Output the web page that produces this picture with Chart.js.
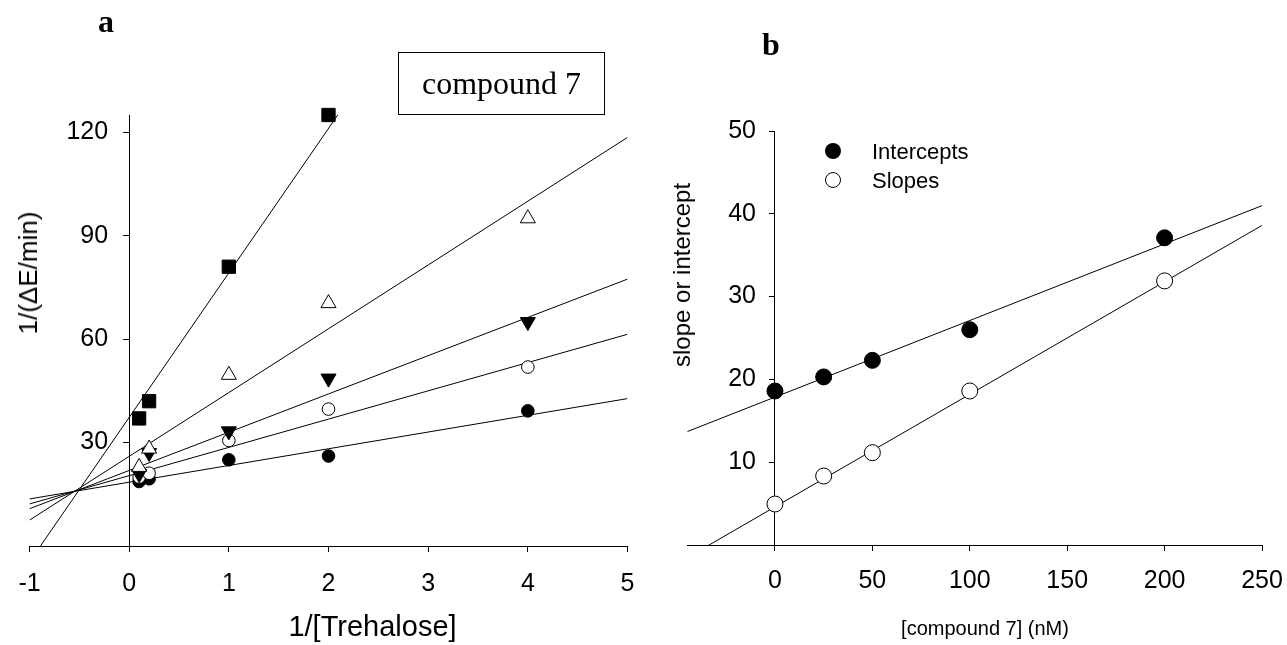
<!DOCTYPE html>
<html><head><meta charset="utf-8">
<script src="https://cdn.jsdelivr.net/npm/chart.js@4.4.1/dist/chart.umd.min.js"></script>
<style>
html,body{margin:0;padding:0;background:#fff;}
#wrap{position:relative;width:1287px;height:645px;overflow:hidden;background:#fff;font-family:"Liberation Sans",Arial,sans-serif;color:#000;}
.pane{position:absolute;top:0;height:645px;}
.t{position:absolute;white-space:nowrap;color:#000;font-family:"Liberation Sans",Arial,sans-serif;}
.serif{font-family:"Liberation Serif","Times New Roman",serif;}
.dot{position:absolute;width:16px;height:16px;border-radius:50%;box-sizing:border-box;}
</style></head><body>
<div id="wrap">
  <div class="pane" style="left:0;width:650px"><canvas id="ca"></canvas></div>
  <div class="pane" style="left:650px;width:637px"><canvas id="cb"></canvas></div>

  <div class="t serif" style="left:98px;top:5px;font-size:32px;font-weight:bold;line-height:32px">a</div>
  <div class="t serif" style="left:762px;top:28px;font-size:32px;font-weight:bold;line-height:32px">b</div>
  <div class="serif" style="position:absolute;left:398px;top:52px;width:205px;height:61px;border:1px solid #000;font-size:32px;line-height:61px;text-align:center;white-space:nowrap">compound 7</div>

  <div class="t" style="left:372.5px;top:611.5px;font-size:29px;line-height:29px;transform:translateX(-50%)">1/[Trehalose]</div>
  <div class="t" style="left:27.5px;top:273px;font-size:26px;line-height:26px;transform:translate(-50%,-50%) rotate(-90deg)">1/(ΔE/min)</div>

  <div class="t" style="left:985px;top:618px;font-size:20px;line-height:20px;transform:translateX(-50%)">[compound 7] (nM)</div>
  <div class="t" style="left:682px;top:275px;font-size:24px;line-height:24px;transform:translate(-50%,-50%) rotate(-90deg)">slope or intercept</div>

  <div class="dot" style="left:825px;top:143px;background:#000"></div>
  <div class="dot" style="left:825px;top:172px;background:#fff;border:1px solid #000"></div>
  <div class="t" style="left:872px;top:140.5px;font-size:22px;line-height:22px">Intercepts</div>
  <div class="t" style="left:872px;top:169.5px;font-size:22px;line-height:22px">Slopes</div>
</div>
<script>
// ---------- Panel a data ----------
const xA = [0.1, 0.2, 1, 2, 4];                      // 1/[Trehalose]
const squaresY     = [37.0, 42.0, 81.0, 125.0, null];
const openTriY     = [22.9, 28.2, 49.6, 70.4, 95.0];
const downTriY     = [20.9, 27.0, 33.3, 48.6, 65.0];
const openCircY    = [20.0, 21.1, 30.6, 39.7, 51.9];
const filledCircY  = [18.7, 19.5, 25.0, 26.1, 39.2];
// fitted lines (slope, intercept) for squares, open tri, down tri, open circ, filled circ
const fitSlopeA     = [41.9, 18.5, 11.1, 8.2, 4.85];
const fitInterceptA = [37.3, 26.0, 21.9, 20.4, 18.5];
const xTicksA = [-1, 0, 1, 2, 3, 4, 5];
const yTicksA = [30, 60, 90, 120];

// ---------- Panel b data ----------
const xB = [0, 25, 50, 100, 200];                    // [compound 7] (nM)
const interceptsY = [18.6, 20.3, 22.3, 26.0, 37.1];
const slopesY     = [4.95, 8.33, 11.15, 18.6, 31.9];
const fitSlopeB     = [0.0925, 0.136];
const fitInterceptB = [17.86, 4.6];
const xTicksB = [0, 50, 100, 150, 200, 250];
const yTicksB = [10, 20, 30, 40, 50];

Chart.defaults.font.family = '"Liberation Sans", Arial, sans-serif';
Chart.defaults.color = '#000';

// place the y axis at x = 0
const yAtZero = {
  id: 'yAtZero',
  afterLayout(chart) {
    const x0 = chart.scales.x.getPixelForValue(0);
    const y = chart.scales.y;
    y.left = 0; y.right = x0; y.width = x0;
    y._labelItems = null;
    y._gridLineItems = null;
  }
};

function axis(min, max, tickArr, isX, h, pad) {
  return {
    type: 'linear', min, max,
    position: isX ? 'bottom' : 'left',
    afterBuildTicks: s => { s.ticks = tickArr.map(v => ({value: v})); },
    afterFit: s => {
      if (isX) s.height = h; else s.width = 0;
      s.paddingLeft = 0; s.paddingRight = 0; s.paddingTop = 0; s.paddingBottom = 0;
    },
    ticks: {color: '#000', font: {size: 25}, padding: pad, autoSkip: false, maxRotation: 0,
            callback: v => String(v)},
    grid: {display: true, drawOnChartArea: false, drawTicks: true, tickLength: 6,
           color: '#000', tickColor: '#000', lineWidth: 1, tickWidth: 1},
    border: {display: true, color: '#000', width: 1}
  };
}

function markers(xs, ys, style, r, fill, rot, order) {
  return {
    type: 'scatter', showLine: false, clip: false, order,
    data: xs.map((x, i) => ({x, y: ys[i]})).filter(p => p.y !== null),
    pointStyle: style, pointRadius: r, pointHoverRadius: r, pointRotation: rot,
    pointBackgroundColor: fill, pointBorderColor: '#000', pointBorderWidth: 1
  };
}
function fitLine(m, b, x0, x1) {
  return {
    type: 'line', order: 100, clip: 0, showLine: true, fill: false, tension: 0,
    data: [{x: x0, y: b + m * x0}, {x: x1, y: b + m * x1}],
    borderColor: '#000', borderWidth: 1, pointRadius: 0, pointHoverRadius: 0
  };
}

const baseOpts = {
  responsive: true, maintainAspectRatio: false, animation: false, events: [],
  plugins: {legend: {display: false}, tooltip: {enabled: false}}
};

// Panel a
const dsA = [];
for (let k = 0; k < fitSlopeA.length; k++) dsA.push(fitLine(fitSlopeA[k], fitInterceptA[k], -1, 5));
dsA.push(markers(xA, filledCircY, 'circle', 6.3, '#000', 0, 5));
dsA.push(markers(xA, openCircY, 'circle', 6.3, '#fff', 0, 4));
dsA.push(markers(xA, downTriY, 'triangle', 8.7, '#000', 180, 3));
dsA.push(markers(xA, openTriY, 'triangle', 8.7, '#fff', 0, 2));
dsA.push(markers(xA, squaresY, 'rect', 9.4, '#000', 0, 1));

new Chart(document.getElementById('ca'), {
  type: 'scatter',
  data: {datasets: dsA},
  options: Object.assign({}, baseOpts, {
    layout: {padding: {left: 29.5, right: 22.5, top: 115, bottom: 0}},
    scales: {x: axis(-1, 5, xTicksA, true, 99, 17), y: axis(0, 125, yTicksA, false, 0, 15)}
  }),
  plugins: [yAtZero]
});

// Panel b
const dsB = [];
for (let k = 0; k < fitSlopeB.length; k++) dsB.push(fitLine(fitSlopeB[k], fitInterceptB[k], -45, 250));
dsB.push(markers(xB, interceptsY, 'circle', 8, '#000', 0, 2));
dsB.push(markers(xB, slopesY, 'circle', 8, '#fff', 0, 1));

new Chart(document.getElementById('cb'), {
  type: 'scatter',
  data: {datasets: dsB},
  options: Object.assign({}, baseOpts, {
    layout: {padding: {left: 37.3, right: 25, top: 131, bottom: 0}},
    scales: {x: axis(-45, 250, xTicksB, true, 100, 15), y: axis(0, 50, yTicksB, false, 0, 13)}
  }),
  plugins: [yAtZero]
});
</script>
</body></html>
